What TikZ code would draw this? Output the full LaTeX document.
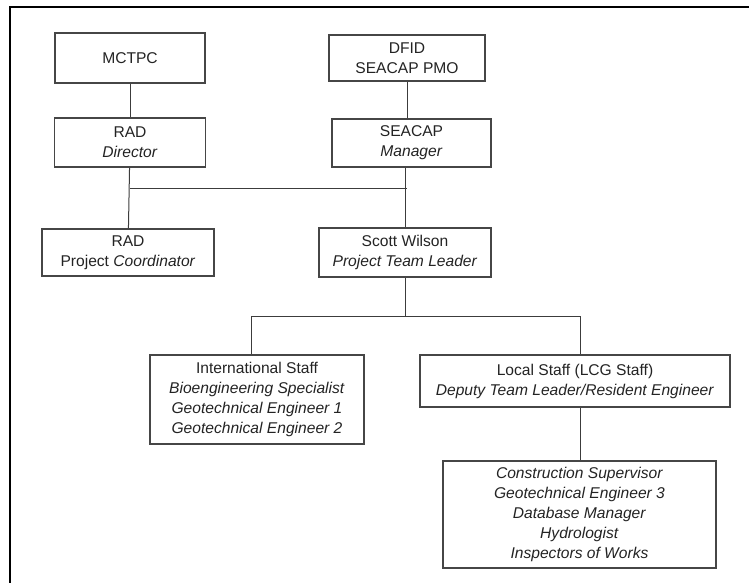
\documentclass[tikz,border=0pt]{standalone}
\usepackage{fontspec}
\setmainfont{Liberation Sans}
\usepackage{xcolor}
\usepackage{tikz}
\usetikzlibrary{calc}
\definecolor{boxgray}{RGB}{70,70,70}
\definecolor{linegray}{RGB}{60,60,60}
\definecolor{textgray}{RGB}{35,35,35}
\tikzset{
  org-box/.style={draw=boxgray, line width=1.2pt, align=center, inner sep=0pt,
    font=\fontsize{15.6}{20}\selectfont, text=textgray},
  org-line/.style={draw=linegray, line width=1pt},
  frame-line/.style={draw=black, line width=2pt}
}

\begin{document}
\begin{tikzpicture}[x=1pt, y=-1pt]
\useasboundingbox (0,0) rectangle (749,583);
% Page frame
\draw[frame-line] (10,583) -- (10,7.5) -- (749,7.5);

% Top level
\node[org-box, minimum width=150pt, minimum height=50pt] (mctpc) at (130,58) {MCTPC};
\node[org-box, minimum width=156pt, minimum height=46pt] (dfid) at (407,58) {DFID\\SEACAP PMO};

% Management level
\node[org-box, minimum width=151pt, minimum height=49pt] (raddir) at (130,142.5) {RAD\\\textit{Director}};
\node[org-box, minimum width=159pt, minimum height=48pt] (seacap) at (411.5,143) {SEACAP\\\textit{Manager}};

% Project level
\node[org-box, minimum width=172pt, minimum height=47pt] (radpc) at (128,252.5) {RAD\\Project \textit{Coordinator}};
\node[org-box, minimum width=172pt, minimum height=49pt] (scott) at (405,252.5) {Scott Wilson\\\textit{Project Team Leader}};

% Staff level
\node[org-box, minimum width=214pt, minimum height=89pt] (intl) at (257,399.5) {International Staff\\\textit{Bioengineering Specialist}\\\textit{Geotechnical Engineer 1}\\\textit{Geotechnical Engineer 2}};
\node[org-box, minimum width=310pt, minimum height=52pt] (local) at (575,381) {Local Staff (LCG Staff)\\\textit{Deputy Team Leader/Resident Engineer}};
\node[org-box, minimum width=273pt, minimum height=107pt] (works) at (579.5,514.5) {\textit{Construction Supervisor}\\\textit{Geotechnical Engineer 3}\\\textit{Database Manager}\\\textit{Hydrologist}\\\textit{Inspectors of Works}};

% Connectors
\coordinate (bus) at (0,188);
\coordinate (staffbus) at (0,316);
\coordinate (jintl) at (251,316);
\coordinate (jlocal) at (580,316);
\draw[org-line] (mctpc) -- (raddir);
\draw[org-line] (dfid) -- (seacap.north -| dfid);
\draw[org-line] (raddir) -- (radpc);
\draw[org-line] (seacap.south -| scott) -- (scott);
\draw[org-line] (raddir.south |- bus) -- ([xshift=2pt]scott.north |- bus);
\draw[org-line] (scott.south) -- (scott.south |- staffbus);
\draw[org-line] (jintl |- intl.north) -- (jintl) -- (jlocal) -- (jlocal |- local.north);
\draw[org-line] (local.south -| jlocal) -- (works.north -| jlocal);
\end{tikzpicture}
\end{document}
